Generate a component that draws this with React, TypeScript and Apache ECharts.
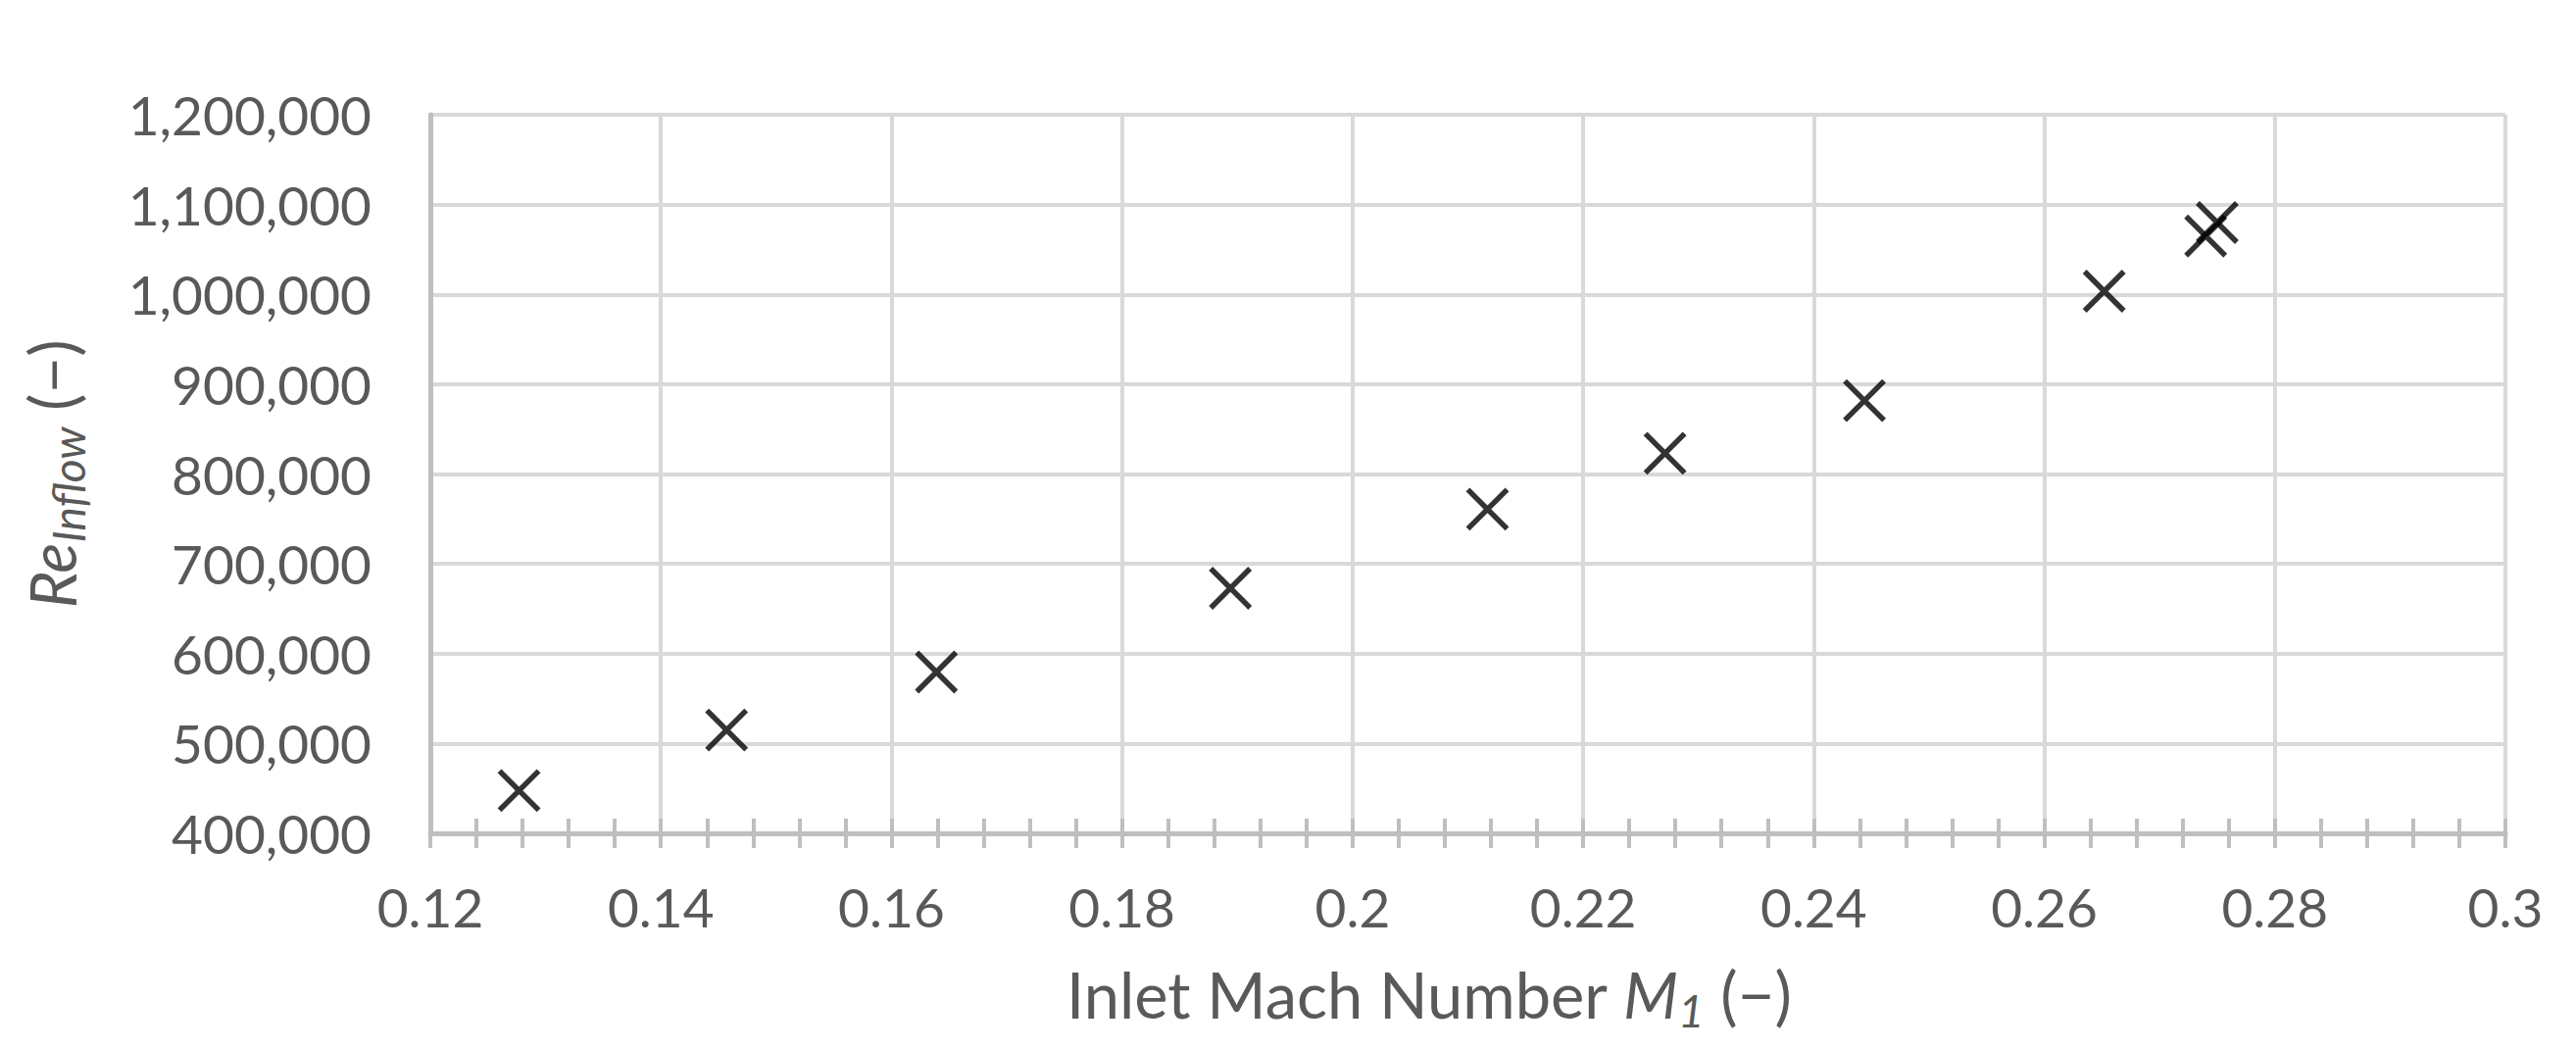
import React, { useEffect, useRef } from "react";
import * as echarts from "echarts";

const machNumbers = [0.1277, 0.1457, 0.1639, 0.1894, 0.2117, 0.2271, 0.2444, 0.2652, 0.2740, 0.2750];
const reynoldsNumbers = [447600, 515000, 579500, 672900, 760800, 823000, 881700, 1003500, 1065000, 1080000];
const xTicks = { min: 0.12, max: 0.3, interval: 0.02 };
const yTicks = { min: 400000, max: 1200000, interval: 100000 };

const FONT = "Lato";
const TEXT = "#595959";
const AXIS = "#bfbfbf";
const GRID = "#d9d9d9";

export default function App() {
  const ref = useRef<HTMLDivElement>(null);
  useEffect(() => {
    if (!ref.current) return;
    const chart = echarts.init(ref.current, null, { renderer: "svg" });
    const data = machNumbers.map((m, i) => [m, reynoldsNumbers[i]]);
    const xBase = {
      type: "value",
      min: xTicks.min,
      max: xTicks.max,
      interval: xTicks.interval,
    };
    const titleRich = {
      n: { fontFamily: FONT, fontSize: 65, color: TEXT },
      it: { fontFamily: FONT, fontSize: 65, color: TEXT, fontStyle: "italic" },
      sub: { fontFamily: FONT, fontSize: 46, color: TEXT, fontStyle: "italic", padding: [32, 0, 0, 0] },
    };
    chart.setOption({
      animation: false,
      backgroundColor: "#ffffff",
      textStyle: { fontFamily: FONT },
      grid: { left: 431, right: 64, top: 109, bottom: 212, containLabel: false },
      xAxis: [
        {
          ...xBase,
          name: "{n|Inlet Mach Number }{it|M}{sub|1}{n| (−)}",
          nameLocation: "middle",
          nameGap: 125,
          nameTextStyle: { padding: [0, 80, 0, 0], rich: titleRich },
          axisLine: { show: true, lineStyle: { color: AXIS, width: 5 } },
          axisTick: { show: true, inside: false, length: 15, lineStyle: { color: AXIS, width: 4 } },
          minorTick: { show: true, splitNumber: 5, length: 15, lineStyle: { color: AXIS, width: 4 } },
          axisLabel: {
            margin: 47,
            fontFamily: FONT,
            fontSize: 55,
            color: TEXT,
            formatter: (v: number) => parseFloat(v.toFixed(4)).toString(),
          },
          splitLine: { show: true, lineStyle: { color: GRID, width: 4 } },
        },
        {
          ...xBase,
          position: "bottom",
          axisLine: { show: false },
          axisTick: { show: true, inside: true, length: 15, lineStyle: { color: AXIS, width: 4 } },
          minorTick: { show: true, splitNumber: 5, length: 15, lineStyle: { color: AXIS, width: 4 } },
          axisLabel: { show: false },
          splitLine: { show: false },
        },
      ],
      yAxis: {
        type: "value",
        min: yTicks.min,
        max: yTicks.max,
        interval: yTicks.interval,
        name: "{it|Re}{sub|Inflow}{n| (−)}",
        nameLocation: "middle",
        nameGap: 347,
        nameTextStyle: { rich: titleRich },
        axisLine: { show: true, lineStyle: { color: AXIS, width: 5 } },
        axisTick: { show: false },
        axisLabel: {
          margin: 60,
          fontFamily: FONT,
          fontSize: 55,
          color: TEXT,
          formatter: (v: number) => v.toLocaleString("en-US"),
        },
        splitLine: { show: true, lineStyle: { color: GRID, width: 4 } },
      },
      series: [
        {
          type: "scatter",
          xAxisIndex: 0,
          data,
          symbol: "path://M0,0L10,10M10,0L0,10",
          symbolSize: 40,
          symbolKeepAspect: true,
          itemStyle: { color: "transparent", borderColor: "#000000", borderWidth: 5.5 },
          emphasis: { disabled: true },
        },
      ],
    });
    return () => chart.dispose();
  }, []);
  return <div ref={ref} style={{ width: 2612, height: 1054 }} />;
}
